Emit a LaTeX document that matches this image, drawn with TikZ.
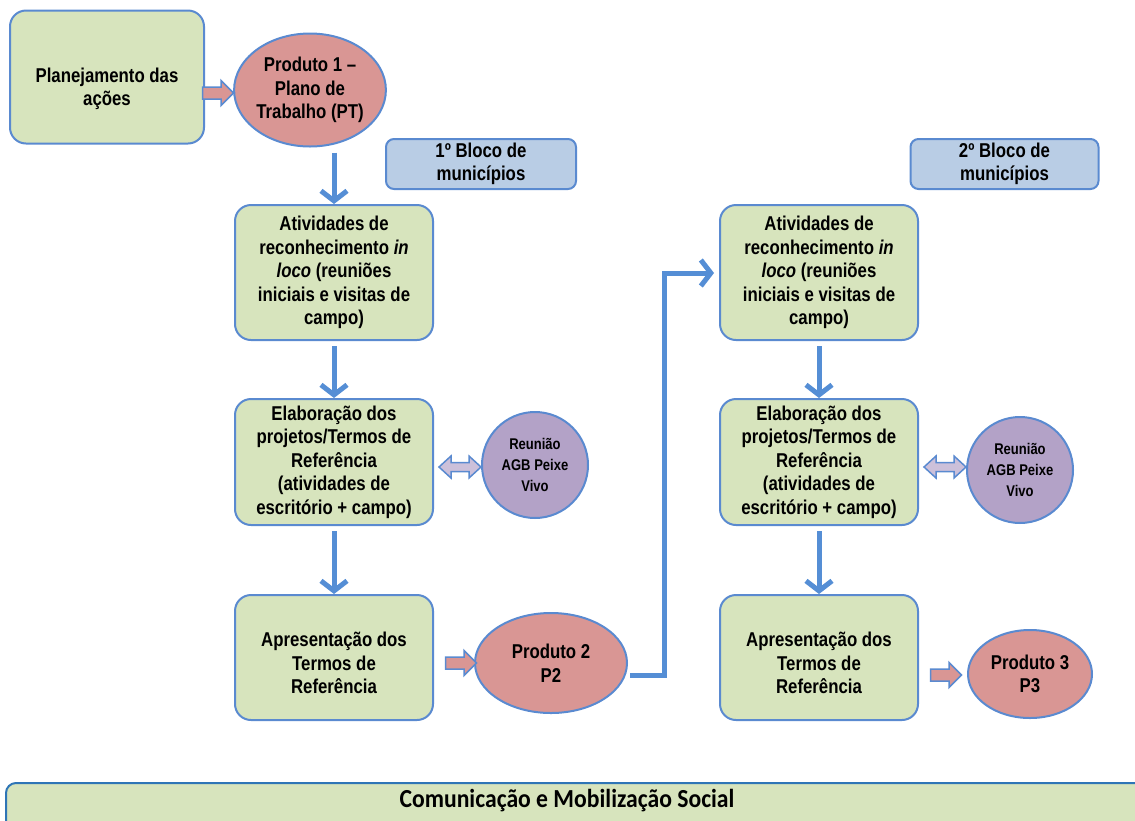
\documentclass[tikz,border=0pt]{standalone}
\usepackage{fontspec}
\setmainfont{Liberation Sans}[FakeStretch=0.84]
\newfontfamily\carl{Carlito}[FakeStretch=0.91]
\usetikzlibrary{arrows.meta,shapes.geometric,calc}
\definecolor{gfill}{HTML}{D7E4BD}
\definecolor{bord}{HTML}{5A8AD0}
\definecolor{pinkf}{HTML}{D99694}
\definecolor{bluef}{HTML}{B9CDE5}
\definecolor{purf}{HTML}{B3A2C7}
\definecolor{arrb}{HTML}{558ED5}
\definecolor{dblf}{HTML}{CCC0DA}
\definecolor{barb}{HTML}{2E75B6}
\begin{document}
\begin{tikzpicture}[x=1pt,y=-1pt,
  txt/.style={align=center,font=\bfseries\fontsize{20}{23.5}\selectfont,inner sep=0pt},
  gbox/.style={txt,draw=bord,line width=2pt,fill=gfill,rounded corners=16pt,minimum width=198pt},
  bbox/.style={txt,draw=bord,line width=2pt,fill=bluef,rounded corners=8pt,minimum height=50pt},
  pell/.style={txt,draw=bord,line width=2pt,fill=pinkf,ellipse},
  rcirc/.style={align=center,font=\bfseries\fontsize{15.5}{21}\selectfont,inner sep=0pt,draw=bord,line width=2pt,fill=purf,circle,minimum size=106pt},
  barrow/.style={draw=arrb,line width=5pt,-{Straight Barb[length=10pt,width=26pt]}},
  pinkarrow/.pic={\draw[bord,line width=1.5pt,fill=pinkf,line join=miter]
     (-15.5,-6) -- (3,-6) -- (3,-12.5) -- (15.5,0) -- (3,12.5) -- (3,6) -- (-15.5,6) -- cycle;},
  dblarrow/.pic={\draw[bord,line width=1.5pt,fill=dblf,line join=miter]
     (-21,0) -- (-9,-11) -- (-9,-4.5) -- (9,-4.5) -- (9,-11) -- (21,0) -- (9,11) -- (9,4.5) -- (-9,4.5) -- (-9,11) -- cycle;},
]
\useasboundingbox (0,0) rectangle (1135,820);
\clip (0,0) rectangle (1135,820);
% top row
\node[gbox,minimum width=194pt,minimum height=133pt] (plan) at (107,77) {};
\node[txt] (plantxt) at (107,89) {Planejamento das\\ações};
\node[pell,minimum width=141pt,minimum height=113pt] (p1) at (310,90) {Produto 1 –\\Plano de\\Trabalho (PT)};
\pic at (218,93) {pinkarrow};
% block labels
\node[bbox,minimum width=190pt] (b1) at (481,164) {1º Bloco de\\municípios};
\node[bbox,minimum width=188pt] (b2) at (1004.5,164) {2º Bloco de\\municípios};
% left column
\node[gbox,minimum height=135pt] (a1) at (334,272.5) {Atividades de\\reconhecimento \textit{in}\\\textit{loco} (reuniões\\iniciais e visitas de\\campo)};
\node[gbox,minimum height=126pt] (e1) at (334,462) {Elaboração dos\\projetos/Termos de\\Referência\\(atividades de\\escritório + campo)};
\node[gbox,minimum height=125pt] (ap1) at (334,657.5) {};
\node[txt] (ap1txt) at (334,663) {Apresentação dos\\Termos de\\Referência};
\node[rcirc] (r1) at (535,465) {Reunião\\AGB Peixe\\Vivo};
\pic at (460,467) {dblarrow};
\node[pell,minimum width=152pt,minimum height=100pt] (p2) at (551,663) {Produto 2\\P2};
\pic at (461,663) {pinkarrow};
% right column
\node[gbox,minimum height=135pt] (a2) at (819,272.5) {Atividades de\\reconhecimento \textit{in}\\\textit{loco} (reuniões\\iniciais e visitas de\\campo)};
\node[gbox,minimum height=126pt] (e2) at (819,462) {Elaboração dos\\projetos/Termos de\\Referência\\(atividades de\\escritório + campo)};
\node[gbox,minimum height=125pt] (ap2) at (819,657.5) {};
\node[txt] (ap2txt) at (819,663) {Apresentação dos\\Termos de\\Referência};
\node[rcirc] (r2) at (1020,470) {Reunião\\AGB Peixe\\Vivo};
\pic at (945,467) {dblarrow};
\node[pell,minimum width=124pt,minimum height=88pt] (p3) at (1030,674) {Produto 3\\P3};
\pic at (946,675) {pinkarrow};
% vertical arrows
\draw[barrow] ([yshift=-5pt]p1.south -| a1.north) -- (a1.north);
\draw[barrow,shorten <=5pt] (a1.south) -- (e1.north);
\draw[barrow,shorten <=5pt] (e1.south) -- (ap1.north);
\draw[barrow,shorten <=5pt] (a2.south) -- (e2.north);
\draw[barrow,shorten <=5pt] (e2.south) -- (ap2.north);
% connector P2 -> second block
\coordinate (turn) at (664,273);
\draw[barrow,shorten >=5pt] ([xshift=2pt,yshift=-12pt]p2.east) -| (turn) -- (turn -| a2.west);
% bottom bar
\node[draw=barb,line width=2pt,fill=gfill,rounded corners=10pt,minimum width=1150pt,minimum height=50pt,anchor=north west,inner sep=0pt] (bar) at (5,782) {};
\node[font=\carl\bfseries\fontsize{26}{30}\selectfont] (bartxt) at (567,801) {Comunicação e Mobilização Social};
\end{tikzpicture}
\end{document}
